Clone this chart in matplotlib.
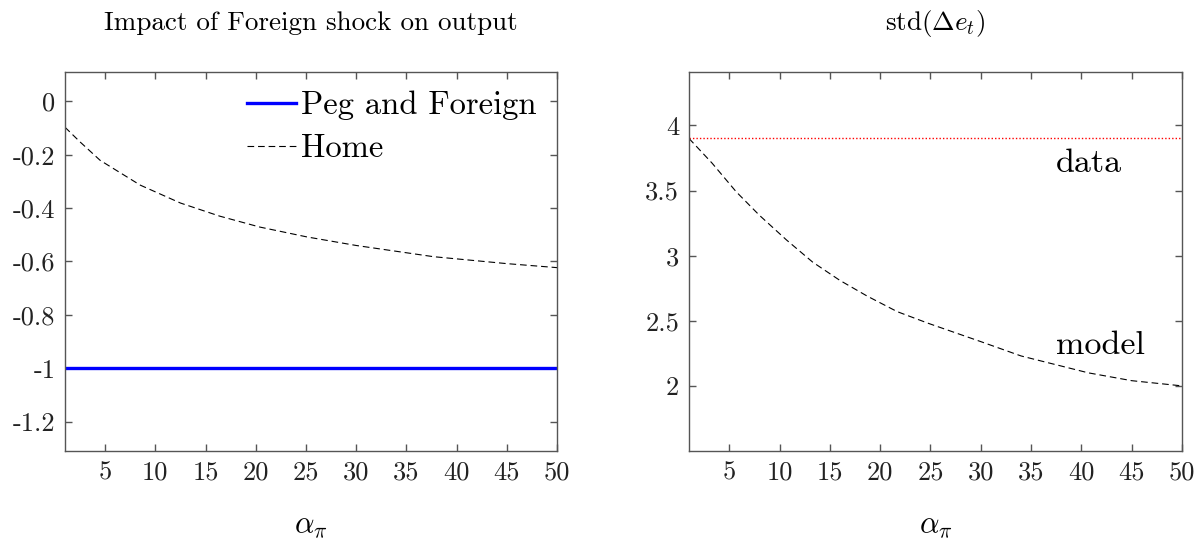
import matplotlib
matplotlib.use("Agg")
import matplotlib.pyplot as plt
import numpy as np

plt.rcParams['font.family'] = 'serif'
plt.rcParams['font.serif'] = ['cmr10']
plt.rcParams['mathtext.fontset'] = 'cm'
plt.rcParams['axes.unicode_minus'] = False
plt.rcParams['axes.formatter.use_mathtext'] = False

# ---- data ----
alpha_grid = [1, 50]
peg_foreign = [-1.0, -1.0]

home_alpha = [1, 2.5, 4.5, 8.5, 12.5, 16.4, 20.4, 25.1, 30, 37.7, 45, 50]
home_output = [-0.097, -0.152, -0.221, -0.314, -0.381, -0.430, -0.471, -0.508, -0.540, -0.582, -0.608, -0.623]

model_alpha = [1, 3.3, 5.7, 8, 10.7, 13.3, 16, 18.7, 21.7, 24.8, 30, 34, 40.7, 45, 50]
model_std = [3.90, 3.71, 3.49, 3.31, 3.12, 2.95, 2.81, 2.69, 2.57, 2.48, 2.34, 2.23, 2.10, 2.04, 2.00]

data_std = 3.9

x_ticks = [5, 10, 15, 20, 25, 30, 35, 40, 45, 50]
left_yticks = [-1.2, -1.0, -0.8, -0.6, -0.4, -0.2, 0.0]
left_yticklabels = ['-1.2', '-1', '-0.8', '-0.6', '-0.4', '-0.2', '0']
right_yticks = [2.0, 2.5, 3.0, 3.5, 4.0]
right_yticklabels = ['2', '2.5', '3', '3.5', '4']

fig = plt.figure(figsize=(11.99, 5.40), dpi=100)
axL = fig.add_axes([0.0542, 0.1648, 0.4104, 0.7019])
axR = fig.add_axes([0.5746, 0.1648, 0.4112, 0.7019])

spine_col = '#555555'
for ax in (axL, axR):
    for s in ax.spines.values():
        s.set_color(spine_col)
        s.set_linewidth(1.0)
    ax.tick_params(direction='in', length=5, width=1.0, color=spine_col,
                   top=True, right=True, labelsize=19, pad=7, labelcolor='#222222')
    ax.set_xlim(1, 50)
    ax.set_xticks(x_ticks)
    ax.set_xticklabels([str(t) for t in x_ticks])
    ax.set_xlabel(r'$\alpha_\pi$', fontsize=22, labelpad=20)

# left panel
axL.plot(alpha_grid, peg_foreign, color='#0000ff', lw=2.4, label='Peg and Foreign')
axL.plot(home_alpha, home_output, color='black', lw=0.8, ls=(0, (6, 3.5)), label='Home')
axL.set_ylim(-1.31, 0.11)
axL.set_yticks(left_yticks)
axL.set_yticklabels(left_yticklabels)
axL.set_title('Impact of Foreign shock on output', fontsize=19.5, pad=30)
leg = axL.legend(loc='upper right', frameon=False, fontsize=23.5, handlelength=1.5,
                 handletextpad=0.15, borderaxespad=0.0, labelspacing=0.42,
                 bbox_to_anchor=(0.985, 0.985))

# right panel
axR.plot(alpha_grid, [data_std, data_std], color='red', lw=1.0, ls=(0, (1, 1.5)))
axR.plot(model_alpha, model_std, color='black', lw=0.8, ls=(0, (6, 3.5)))
axR.set_ylim(1.5, 4.41)
axR.set_yticks(right_yticks)
axR.set_yticklabels(right_yticklabels)
axR.set_title(r'std($\Delta e_t$)', fontsize=19.5, pad=30)
axR.text(37.5, 3.71, 'data', fontsize=24.5, va='center', ha='left')
axR.text(37.5, 2.31, 'model', fontsize=24.5, va='center', ha='left')

fig.savefig('out.png', dpi=100)
